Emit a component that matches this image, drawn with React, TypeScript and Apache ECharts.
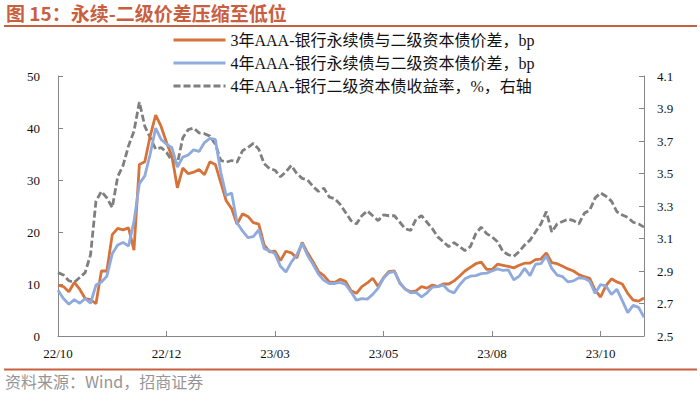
import React, { useEffect, useRef } from 'react';
import * as echarts from 'echarts';

const xTickLabels = ['22/10', '22/12', '23/03', '23/05', '23/08', '23/10'];

const seriesNames = [
  '3年AAA-银行永续债与二级资本债价差，bp',
  '4年AAA-银行永续债与二级资本债价差，bp',
  '4年AAA-银行二级资本债收益率，%，右轴',
];

const spread3Y = [
  9.8, 9.5, 8.5, 10.3, 9.0, 7.2, 7.0, 6.2, 12.5, 12.5,
  19.5, 20.7, 20.4, 20.8, 16.5, 33.0, 33.5, 38.5, 42.5, 40.3,
  37.2, 34.5, 28.5, 32.3, 31.2, 31.5, 32.0, 31.0, 33.5, 33.0,
  29.5, 26.0, 24.5, 21.5, 23.5, 23.0, 21.8, 21.5, 17.5, 16.2,
  16.3, 14.5, 16.3, 16.0, 15.0, 18.0, 16.0, 14.3, 12.4, 11.6,
  10.4, 10.3, 10.9, 10.5, 8.7, 8.2, 9.5, 10.2, 11.1, 9.5,
  11.2, 12.4, 12.5, 10.2, 9.0, 8.5, 8.7, 9.5, 9.2, 9.8,
  9.5, 10.0, 10.0, 10.6, 11.5, 12.5, 13.2, 13.9, 14.2, 12.8,
  12.8, 13.8, 13.6, 13.4, 13.1, 13.6, 14.0, 14.0, 14.7, 14.8,
  16.0, 14.1, 13.9, 13.4, 12.9, 12.5, 11.8, 11.4, 11.1, 8.8,
  7.5, 9.7, 11.0, 10.4, 10.0, 8.2, 6.9, 6.7, 7.3,
];

const spread4Y = [
  8.8, 7.2, 6.1, 7.0, 6.3, 7.2, 6.3, 9.8, 10.4, 11.5,
  15.8, 17.5, 18.0, 17.3, 22.0, 29.3, 30.8, 35.0, 40.0, 37.8,
  36.9, 36.2, 32.5, 34.4, 34.8, 35.8, 35.5, 37.2, 38.0, 37.8,
  31.5, 27.0, 27.5, 21.8, 20.2, 18.9, 19.1, 20.4, 16.8, 16.4,
  15.8, 13.4, 12.3, 14.2, 15.6, 17.8, 15.5, 13.8, 11.9, 10.7,
  10.1, 10.1, 10.3, 9.9, 8.5, 6.9, 7.2, 7.1, 8.0, 9.2,
  11.1, 12.2, 12.4, 10.2, 9.0, 8.3, 8.4, 7.5, 8.3, 9.4,
  9.5, 9.8, 8.7, 8.3, 9.8, 11.0, 11.5, 11.6, 12.0, 12.1,
  12.5, 12.9, 12.6, 12.7, 10.8, 11.5, 13.0, 11.6, 13.8, 13.9,
  15.4, 13.0, 11.7, 11.4, 10.4, 10.6, 11.2, 11.1, 10.5, 8.2,
  9.9, 9.6, 8.0, 9.0, 6.8, 4.5, 5.9, 5.5, 3.6,
];

const yield4Y = [
  2.89, 2.875, 2.84, 2.83, 2.86, 2.89, 3.0, 3.33, 3.39, 3.35,
  3.29, 3.48, 3.55, 3.67, 3.76, 3.94, 3.79, 3.72, 3.65, 3.66,
  3.63, 3.58, 3.56, 3.72, 3.77, 3.78, 3.75, 3.745, 3.73, 3.68,
  3.58, 3.57, 3.58, 3.57, 3.64, 3.66, 3.685, 3.65, 3.56, 3.53,
  3.52, 3.48, 3.51, 3.55, 3.5, 3.47, 3.46, 3.42, 3.39, 3.41,
  3.355, 3.345, 3.31, 3.26, 3.21, 3.19, 3.24, 3.27, 3.24, 3.21,
  3.245, 3.24, 3.24, 3.2, 3.16, 3.15, 3.22, 3.24, 3.2, 3.16,
  3.11, 3.08, 3.05, 3.075, 3.05, 3.025, 3.05, 3.13, 3.17, 3.13,
  3.11, 3.08, 3.02, 3.0, 2.99, 3.02, 3.06, 3.09, 3.14, 3.19,
  3.265, 3.14, 3.19, 3.205, 3.22, 3.21, 3.19, 3.255, 3.275, 3.35,
  3.38, 3.36, 3.33, 3.265, 3.245, 3.23, 3.2, 3.19, 3.17,
];

const TICK_EVERY = 20;
const RIGHT_MIN = 2.5;
const RIGHT_STEP = 0.2;

const ORANGE = '#D5733A';
const BLUE = '#8FAADC';
const GRAY = '#7F7F7F';
const RED = '#C8603F';
const AXIS = '#868686';
const SERIF = '"Liberation Serif", "Noto Sans CJK SC", serif';

export default function App() {
  const ref = useRef<HTMLDivElement>(null);

  useEffect(() => {
    if (!ref.current) return;
    const chart = echarts.init(ref.current, null, { renderer: 'svg' });
    const categories = spread3Y.map((_, i) => String(i));

    chart.setOption({
      animation: false,
      backgroundColor: '#ffffff',
      grid: { left: 58, right: 56, top: 76, bottom: 58, containLabel: false },
      legend: {
        orient: 'vertical',
        left: 172,
        top: 32,
        padding: 0,
        itemWidth: 52,
        itemHeight: 14,
        itemGap: 7,
        itemStyle: { opacity: 0 },
        lineStyle: { width: 3 },
        textStyle: { fontFamily: SERIF, fontSize: 16, color: '#111' },
        data: seriesNames,
      },
      xAxis: {
        type: 'category',
        boundaryGap: false,
        data: categories,
        axisLine: { show: true, lineStyle: { color: AXIS, width: 1 } },
        axisTick: { show: true, inside: true, length: 5, interval: TICK_EVERY - 1, lineStyle: { color: AXIS } },
        axisLabel: {
          interval: TICK_EVERY - 1,
          margin: 11,
          hideOverlap: false,
          fontFamily: SERIF,
          fontSize: 13,
          color: '#111',
          formatter: (_v: string, idx: number) =>
            idx % TICK_EVERY === 0 ? xTickLabels[idx / TICK_EVERY] ?? '' : '',
        },
        splitLine: { show: false },
      },
      yAxis: [
        {
          type: 'value',
          min: 0,
          max: 50,
          interval: 10,
          axisLine: { show: true, lineStyle: { color: AXIS, width: 1 } },
          axisTick: { show: true, inside: true, length: 5, lineStyle: { color: AXIS } },
          axisLabel: { margin: 18, fontFamily: SERIF, fontSize: 13, color: '#111' },
          splitLine: { show: false },
        },
        {
          type: 'value',
          position: 'right',
          min: 0,
          max: 8,
          interval: 1,
          axisLine: { show: true, lineStyle: { color: AXIS, width: 1 } },
          axisTick: { show: true, inside: true, length: 5, lineStyle: { color: AXIS } },
          axisLabel: {
            margin: 13,
            fontFamily: SERIF,
            fontSize: 13,
            color: '#111',
            formatter: (v: number) => (RIGHT_MIN + v * RIGHT_STEP).toFixed(1),
          },
          splitLine: { show: false },
        },
      ],
      series: [
        {
          name: seriesNames[0],
          type: 'line',
          yAxisIndex: 0,
          data: spread3Y,
          symbol: 'none',
          lineStyle: { color: ORANGE, width: 2.8 },
          itemStyle: { color: ORANGE },
          z: 3,
        },
        {
          name: seriesNames[1],
          type: 'line',
          yAxisIndex: 0,
          data: spread4Y,
          symbol: 'none',
          lineStyle: { color: BLUE, width: 2.8 },
          itemStyle: { color: BLUE },
          z: 4,
        },
        {
          name: seriesNames[2],
          type: 'line',
          yAxisIndex: 1,
          data: yield4Y.map((v) => (v - RIGHT_MIN) / RIGHT_STEP),
          symbol: 'none',
          lineStyle: { color: GRAY, width: 2.8, type: [7, 3] },
          itemStyle: { color: GRAY },
          z: 2,
        },
      ],
      graphic: [
        {
          type: 'text',
          left: 6,
          top: 3,
          style: {
            text: '图 15：永续-二级价差压缩至低位',
            fontSize: 19,
            fontWeight: 'bold',
            fontFamily: '"Noto Sans CJK SC", sans-serif',
            fill: RED,
          },
        },
        {
          type: 'line',
          shape: { x1: 4, y1: 26, x2: 697, y2: 26 },
          style: { stroke: RED, lineWidth: 2 },
        },
        {
          type: 'line',
          shape: { x1: 4, y1: 369.5, x2: 697, y2: 369.5 },
          style: { stroke: RED, lineWidth: 2 },
        },
        {
          type: 'text',
          left: 5,
          top: 373,
          style: {
            text: '资料来源：Wind，招商证券',
            fontSize: 16,
            fontFamily: '"Noto Sans CJK SC", sans-serif',
            fill: '#959595',
          },
        },
      ],
    });

    return () => chart.dispose();
  }, []);

  return (
    <div
      ref={ref}
      style={{ position: 'fixed', left: 0, top: 0, width: 700, height: 394, background: '#fff' }}
    />
  );
}
